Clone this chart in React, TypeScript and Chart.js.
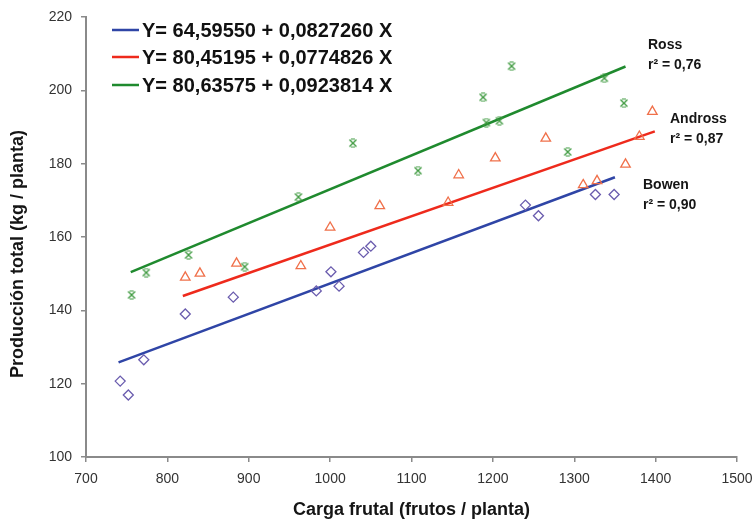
import React, { useEffect, useRef } from "react";
import { Chart, registerables } from "chart.js";

Chart.register(...registerables);

// ---- Data ----
const bowenX = [742, 752, 771, 822, 881, 983, 1001, 1011, 1041, 1050, 1240, 1256, 1326, 1349];
const bowenY = [120.7, 116.9, 126.5, 139.0, 143.6, 145.3, 150.5, 146.6, 155.8, 157.5, 168.7, 165.8, 171.6, 171.6];

const androssX = [822, 840, 885, 964, 1000, 1061, 1145, 1158, 1203, 1265, 1311, 1328, 1363, 1380, 1396];
const androssY = [149.0, 150.1, 152.8, 152.1, 162.6, 168.5, 169.4, 176.9, 181.5, 186.9, 174.2, 175.3, 179.8, 187.4, 194.2];

const rossX = [756, 774, 826, 895, 961, 1028, 1108, 1188, 1192, 1208, 1223, 1292, 1337, 1361];
const rossY = [144.2, 150.3, 155.1, 151.9, 170.9, 185.6, 178.1, 198.1, 191.2, 191.7, 206.6, 183.2, 203.3, 196.5];

// regression line end points
const bowenLineX = [740, 1350];
const bowenLineY = [125.8, 176.3];
const androssLineX = [819, 1399];
const androssLineY = [143.9, 188.8];
const rossLineX = [755, 1363];
const rossLineY = [150.4, 206.5];

const legendLabels = [
  "Y= 64,59550 + 0,0827260 X",
  "Y= 80,45195 + 0,0774826 X",
  "Y= 80,63575 + 0,0923814 X",
];
const cultivarNames = ["Ross", "Andross", "Bowen"];
const r2Labels = ["r² = 0,76", "r² = 0,87", "r² = 0,90"];

const xTitle = "Carga frutal (frutos / planta)";
const yTitle = "Producción total (kg / planta)";

const xMin = 700, xMax = 1500, xStep = 100;
const yMin = 100, yMax = 220, yStep = 20;

// ---- styles ----
const BLUE_LINE = "#2f45a6";
const RED_LINE = "#ee2a1c";
const GREEN_LINE = "#1f8a2e";
const BLUE_PT = "#6a5cae";
const RED_PT = "#f0704a";
const GREEN_PT = "#3f9a40";
const AXIS = "#8a8a8a";
const FONT = "'Liberation Sans', Arial, sans-serif";

const zip = (xs: number[], ys: number[]) => xs.map((x, i) => ({ x, y: ys[i] }));

function makeCross(color: string) {
  const c = document.createElement("canvas");
  c.width = 10;
  c.height = 10;
  const g = c.getContext("2d")!;
  g.strokeStyle = color;
  g.lineWidth = 1.4;
  g.beginPath();
  g.moveTo(1.5, 1.5);
  g.lineTo(8.5, 8.5);
  g.moveTo(8.5, 1.5);
  g.lineTo(1.5, 8.5);
  g.stroke();
  g.lineWidth = 1;
  g.beginPath();
  g.moveTo(3, 1);
  g.lineTo(7, 1);
  g.moveTo(3, 9);
  g.lineTo(7, 9);
  g.stroke();
  return c;
}

const overlayPlugin = {
  id: "overlay",
  afterDraw(chart: any) {
    const ctx = chart.ctx as CanvasRenderingContext2D;
    ctx.save();
    // legend
    const legendColors = [BLUE_LINE, RED_LINE, GREEN_LINE];
    const rows = [30, 57, 85];
    legendLabels.forEach((t, i) => {
      ctx.strokeStyle = legendColors[i];
      ctx.lineWidth = 2.5;
      ctx.beginPath();
      ctx.moveTo(112, rows[i]);
      ctx.lineTo(139, rows[i]);
      ctx.stroke();
      ctx.fillStyle = "#111";
      ctx.font = `bold 20px ${FONT}`;
      ctx.textAlign = "left";
      ctx.textBaseline = "middle";
      ctx.fillText(t, 142, rows[i] + 1);
    });
    // annotations
    const ann = [
      { x: 648, y: 45 },
      { x: 670, y: 119 },
      { x: 643, y: 185 },
    ];
    ann.forEach((a, i) => {
      ctx.fillStyle = "#151515";
      ctx.font = `bold 14px ${FONT}`;
      ctx.textAlign = "left";
      ctx.textBaseline = "middle";
      ctx.fillText(cultivarNames[i], a.x, a.y);
      ctx.fillText(r2Labels[i], a.x, a.y + 20);
    });
    // y title
    ctx.translate(18, 254);
    ctx.rotate(-Math.PI / 2);
    ctx.font = `bold 18px ${FONT}`;
    ctx.textAlign = "center";
    ctx.textBaseline = "middle";
    ctx.fillStyle = "#151515";
    ctx.fillText(yTitle, 0, 0);
    ctx.restore();
  },
};

export default function App() {
  const ref = useRef<HTMLCanvasElement | null>(null);

  useEffect(() => {
    document.body.style.margin = "0";
    const canvas = ref.current!;
    const cross = makeCross(GREEN_PT);
    const lineDs = (label: string, xs: number[], ys: number[], color: string) => ({
      type: "line" as any,
      label,
      data: zip(xs, ys),
      borderColor: color,
      borderWidth: 2.5,
      pointRadius: 0,
      showLine: true,
      fill: false,
    });
    const chart = new Chart(canvas, {
      type: "scatter",
      data: {
        datasets: [
          {
            label: "Bowen",
            data: zip(bowenX, bowenY),
            pointStyle: "rectRot",
            radius: 5,
            borderColor: BLUE_PT,
            backgroundColor: "rgba(0,0,0,0)",
            borderWidth: 1.3,
          },
          {
            label: "Andross",
            data: zip(androssX, androssY),
            pointStyle: "triangle",
            radius: 5.5,
            borderColor: RED_PT,
            backgroundColor: "rgba(0,0,0,0)",
            borderWidth: 1.3,
          },
          {
            label: "Ross",
            data: zip(rossX, rossY),
            pointStyle: cross as any,
            radius: 5,
            borderColor: GREEN_PT,
            backgroundColor: "rgba(0,0,0,0)",
          },
          lineDs("Bowen fit", bowenLineX, bowenLineY, BLUE_LINE),
          lineDs("Andross fit", androssLineX, androssLineY, RED_LINE),
          lineDs("Ross fit", rossLineX, rossLineY, GREEN_LINE),
        ] as any,
      },
      options: {
        responsive: false,
        animation: false,
        layout: { padding: { top: 17, right: 17, left: 0, bottom: 0 } },
        plugins: {
          legend: { display: false },
          tooltip: { enabled: false },
        },
        scales: {
          x: {
            type: "linear",
            min: xMin,
            max: xMax,
            ticks: {
              stepSize: xStep,
              padding: 9,
              color: "#333",
              font: { family: FONT, size: 14 },
              callback: (v: any) => String(v),
            },
            grid: {
              display: true,
              drawOnChartArea: false,
              drawTicks: true,
              tickLength: 5,
              color: AXIS,
              lineWidth: 1.5,
            },
            border: { display: true, color: AXIS, width: 2 },
            title: {
              display: true,
              text: xTitle,
              color: "#151515",
              font: { family: FONT, size: 18, weight: "bold" },
              padding: { top: 0, bottom: 0 },
            },
            afterFit: (s: any) => {
              s.height = 64;
              s.paddingRight = 0;
              s.paddingLeft = 0;
            },
          },
          y: {
            type: "linear",
            min: yMin,
            max: yMax,
            ticks: {
              stepSize: yStep,
              padding: 9,
              color: "#333",
              font: { family: FONT, size: 14 },
              callback: (v: any) => String(v),
            },
            grid: {
              display: true,
              drawOnChartArea: false,
              drawTicks: true,
              tickLength: 5,
              color: AXIS,
              lineWidth: 1.5,
            },
            border: { display: true, color: AXIS, width: 2 },
            afterFit: (s: any) => {
              s.width = 86;
              s.paddingTop = 0;
              s.paddingBottom = 0;
            },
          },
        },
      } as any,
      plugins: [overlayPlugin],
    });
    return () => chart.destroy();
  }, []);

  return (
    <div style={{ position: "fixed", left: 0, top: 0, width: 754, height: 521, background: "#fff" }}>
      <canvas ref={ref} width={754} height={521} style={{ display: "block" }} />
    </div>
  );
}
